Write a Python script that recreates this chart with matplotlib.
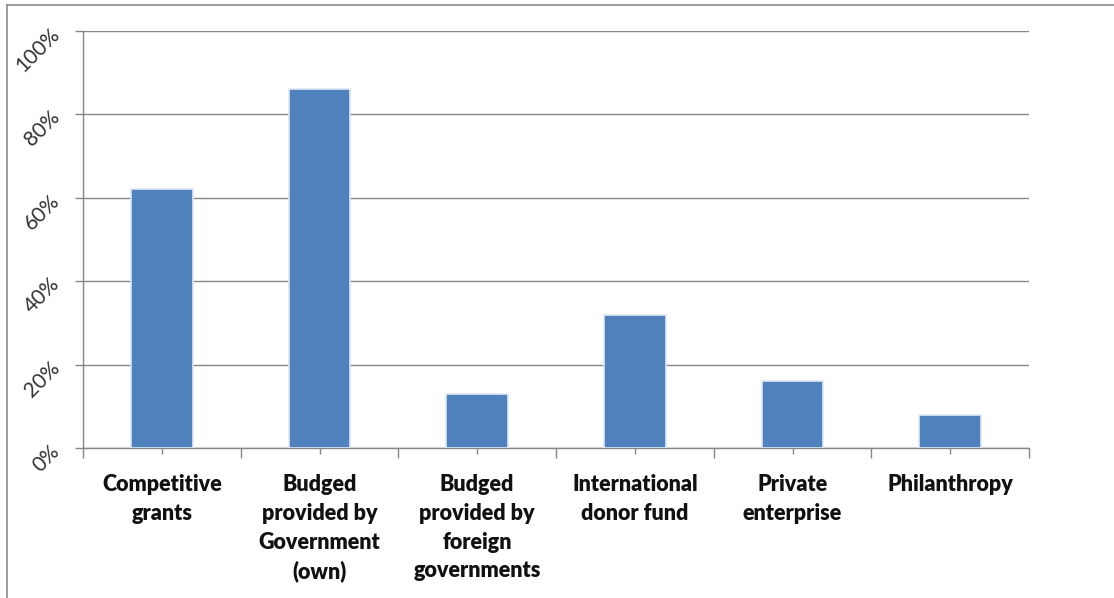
import matplotlib.pyplot as plt
from matplotlib.lines import Line2D
from matplotlib.ticker import FixedLocator, PercentFormatter

# funding sources and share of respondents (%)
categories = [
    'Competitive\ngrants',
    'Budged\nprovided by\nGovernment\n(own)',
    'Budged\nprovided by\nforeign\ngovernments',
    'International\ndonor fund',
    'Private\nenterprise',
    'Philanthropy',
]
shares = [62, 86, 13, 32, 16, 8]
y_ticks = [0, 20, 40, 60, 80, 100]

W, H = 1114, 598
fig = plt.figure(figsize=(W / 100, H / 100), dpi=100)
ax = fig.add_axes([83 / W, 1 - 448 / H, (1029 - 83) / W, (448 - 31) / H])

grey = '#868686'
x = range(len(categories))
ax.bar(x, shares, width=0.39, color='#4f81bd', edgecolor='#dfe8f3',
       linewidth=1.2, zorder=3)

ax.set_xlim(-0.5, len(categories) - 0.5)
ax.set_ylim(0, 100)
ax.set_yticks(y_ticks)
ax.yaxis.set_major_formatter(PercentFormatter(decimals=0))
ax.grid(axis='y', color=grey, linewidth=1, zorder=0)

for side in ['top', 'right']:
    ax.spines[side].set_visible(False)
for side in ['left', 'bottom']:
    ax.spines[side].set_color(grey)
    ax.spines[side].set_linewidth(1)

# category labels at centres, tick marks also at the boundaries
ax.set_xticks(list(x))
ax.set_xticklabels(categories, fontfamily='Lato', fontweight='heavy',
                   fontsize=15.5, color='#111111', linespacing=1.45,
                   va='top', ha='center')
ax.xaxis.set_minor_locator(FixedLocator([i - 0.5 for i in range(len(categories) + 1)]))
ax.tick_params(axis='x', which='major', length=4, width=1, color=grey, pad=15)
ax.tick_params(axis='x', which='minor', length=7, width=1, color=grey)
ax.tick_params(axis='y', length=6, width=1, color=grey, pad=13)

for lab in ax.get_yticklabels():
    lab.set_rotation(45)
    lab.set_rotation_mode('anchor')
    lab.set_ha('right')
    lab.set_va('center')
    lab.set_fontfamily('Lato')
    lab.set_fontsize(15)
    lab.set_color('#333333')

# chart frame lines (top and left edges)
fig.add_artist(Line2D([7 / W, 1], [1 - 5 / H, 1 - 5 / H], color='#8c8c8c', linewidth=1.2))
fig.add_artist(Line2D([7 / W, 7 / W], [0, 1 - 5 / H], color='#8c8c8c', linewidth=1.2))

fig.savefig('out.png', dpi=100)
